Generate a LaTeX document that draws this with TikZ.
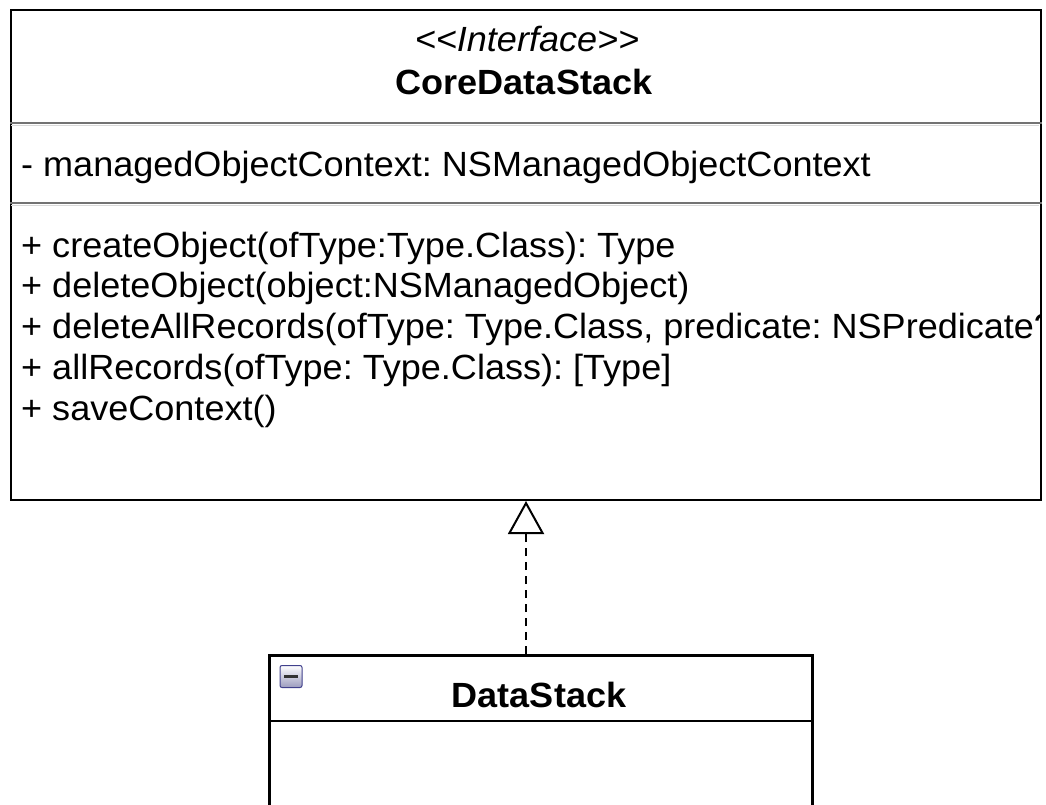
\documentclass[tikz,border=0pt]{standalone}
\usepackage{fontspec}
\setmainfont{Liberation Sans}[FakeStretch=1.03]
\usetikzlibrary{arrows.meta}
\frenchspacing
\begin{document}
\begin{tikzpicture}[x=1pt,y=-1pt,
  txt/.style={inner sep=0pt, font=\fontsize{35}{40}\selectfont},
  boxline/.style={draw=black, line width=2pt},
  sepline/.style={draw=black!55, line width=2pt},
  sepshade/.style={draw=black!15, line width=1.5pt},
  realize/.style={line width=2pt, dash pattern=on 8pt off 6pt, -{Triangle[open, length=33pt, width=36pt, line width=2pt]}}]
\useasboundingbox (0,0) rectangle (1046,805);
% interface box
\node[boxline, inner sep=0pt, minimum width=1030pt, minimum height=490pt, anchor=north west] (core) at (10,9) {};
\draw[sepline] (core.west |- 0,123) -- (core.east |- 0,123);
\draw[sepshade] (11,125.5) -- (1039,125.5);
\draw[sepline] (core.west |- 0,203) -- (core.east |- 0,203);
\draw[sepshade] (11,205.5) -- (1039,205.5);
\node[txt, anchor=base, font=\fontsize{35}{40}\selectfont\itshape] (stereo) at (527,52) {<\kern0pt<Interface>\kern0pt>};
\node[txt, anchor=base, font=\fontsize{35}{40}\selectfont\bfseries] (cname) at (524,95) {CoreDataStack};
\node[txt, anchor=base west] (attr) at (21,177) {- managedObjectContext: NSManagedObjectContext};
\begin{scope}
\clip (11,206) rectangle (1039,498);
\node[txt, anchor=base west] (m1) at (21,257) {+ createObject(ofType:Type.Class): Type};
\node[txt, anchor=base west] (m2) at (21,297.5) {+ deleteObject(object:NSManagedObject)};
\node[txt, anchor=base west] (m3) at (21,338) {+ deleteAllRecords(ofType: Type.Class, predicate: NSPredicate?)};
\node[txt, anchor=base west] (m4) at (21,379) {+ allRecords(ofType: Type.Class): [Type]};
\node[txt, anchor=base west] (m5) at (21,420) {+ saveContext()};
\end{scope}
% implementing class
\node[draw=black, line width=2.5pt, inner sep=0pt, minimum width=543pt, minimum height=170pt, anchor=north west] (ds) at (268,654) {};
\draw[draw=black, line width=2.5pt] (ds.west |- 0,721) -- (ds.east |- 0,721);
\node[txt, anchor=base, font=\fontsize{35}{40}\selectfont\bfseries] (dsname) at (539,707) {DataStack};
\node[draw=black!40!blue!50!gray, line width=1pt, rounded corners=2pt, inner sep=0pt, minimum width=22pt, minimum height=22pt, top color=white, bottom color=black!25!blue!30!gray!60] (icon) at (291,676.5) {};
\draw[line width=3.5pt, black!80] (icon.center) ++(-7,0) -- ++(14,0);
% realization connector
\draw[realize] (ds.north -| core.south) -- (core.south);
\end{tikzpicture}
\end{document}
